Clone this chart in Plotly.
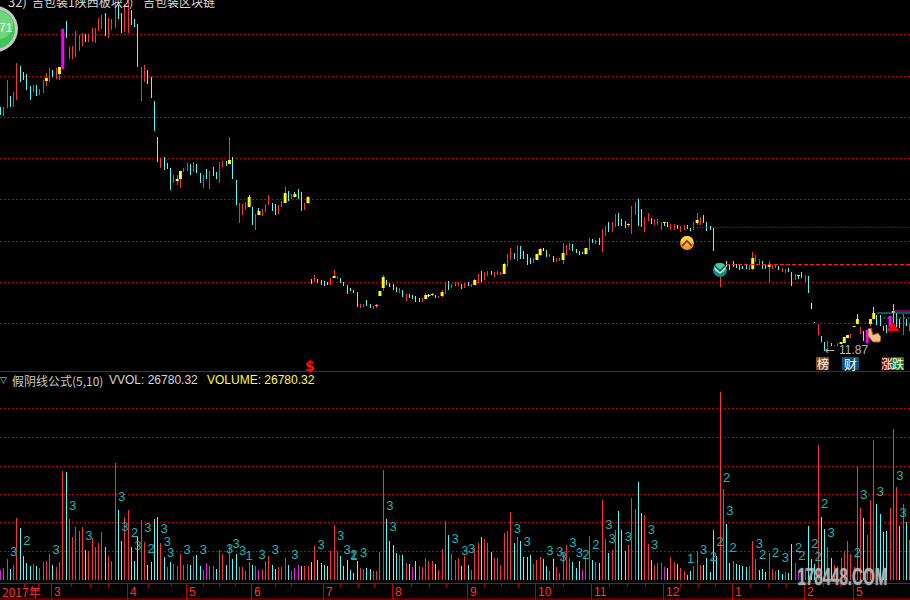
import plotly.graph_objects as go

# ---------- price pane ----------
highs = [36.2,36.2,38.9,37.3,37.7,40.6,40.3,39.7,39.5,38.3,
 38.4,38.4,38.0,38.9,39.6,40.1,39.9,40.1,40.2,44.0,
 44.8,42.2,42.3,43.8,43.4,43.6,43.5,43.5,44.1,44.1,
 45.1,45.4,45.6,45.1,45.0,46.9,46.4,45.6,46.5,46.9,
 45.9,45.0,44.5,40.2,40.4,39.9,39.2,36.8,33.2,31.1,
 31.2,30.6,30.1,29.4,29.4,29.8,30.1,30.6,30.5,30.7,
 30.5,29.6,29.4,30.0,29.8,30.2,29.7,30.7,30.8,30.8,
 33.2,31.2,28.9,26.6,26.5,26.7,27.4,26.2,25.5,26.1,
 26.0,26.5,27.4,26.6,26.5,26.4,26.8,28.2,27.8,27.5,
 27.7,28.0,27.7,26.6,27.3,19.0,19.4,19.0,18.9,18.8,
 18.7,19.1,19.9,19.3,19.1,18.7,18.4,18.1,17.9,17.7,
 16.5,16.5,16.9,16.5,16.3,16.5,17.8,19.4,18.9,18.6,
 18.5,18.2,18.1,17.9,17.5,17.5,17.4,17.3,17.1,17.1,
 17.6,17.5,17.6,17.4,17.3,17.9,18.7,18.8,18.5,18.7,
 18.7,18.5,18.6,18.7,18.5,19.0,19.5,19.8,19.7,19.8,
 19.8,19.7,19.8,19.7,20.6,21.5,22.1,21.6,22.4,22.3,
 21.8,21.5,21.1,21.1,21.5,22.1,22.1,21.9,21.5,21.3,
 21.1,21.1,22.6,22.4,22.6,22.5,22.0,21.8,21.7,22.1,
 23.1,23.0,22.9,23.1,24.0,24.3,24.7,24.7,25.5,25.6,
 25.0,24.8,24.6,26.3,26.7,27.0,26.0,25.2,25.6,25.1,
 25.0,25.0,24.7,24.7,24.7,24.5,24.5,24.4,24.3,24.4,
 24.4,24.1,24.7,25.6,25.2,25.4,24.7,24.3,24.1,20.6,
 20.6,20.5,20.8,20.5,20.8,20.5,20.4,20.3,20.4,20.4,
 21.7,21.4,21.0,20.8,20.4,20.8,20.4,20.4,20.3,20.1,
 20.0,20.1,19.7,19.5,19.4,19.7,19.4,19.3,16.6,14.7,
 14.5,13.3,12.7,12.8,12.6,12.4,12.6,12.7,13.2,13.4,
 13.5,14.3,15.5,14.2,13.8,13.9,15.0,16.2,15.4,15.4,
 14.3,14.4,15.3,16.5,15.6,15.0,15.5,15.0,14.5]
lows = [35.4,35.3,36.1,36.2,36.2,36.9,38.7,38.9,37.9,36.9,
 37.7,37.3,37.4,37.6,38.3,38.7,39.2,39.0,38.9,40.0,
 43.1,41.0,41.0,41.2,41.8,42.3,42.7,42.7,42.7,42.6,
 43.8,44.0,43.3,43.1,43.9,44.1,45.0,43.6,43.7,43.6,
 44.4,44.2,40.2,36.8,38.7,38.5,37.1,33.8,30.7,30.1,
 29.9,30.0,27.9,28.6,28.4,28.1,29.7,29.8,29.4,29.7,
 29.6,28.6,28.1,29.0,28.0,29.3,29.0,28.6,30.2,30.3,
 30.5,29.0,26.4,24.6,25.4,25.9,26.2,24.4,23.9,25.4,
 25.3,25.7,26.4,25.8,25.4,25.5,26.2,26.6,26.8,27.0,
 27.2,27.0,25.8,25.9,26.5,18.5,18.7,18.6,18.4,18.3,
 18.4,18.4,19.1,19.0,18.6,18.3,17.5,17.8,17.6,16.2,
 16.1,16.2,16.3,16.1,16.0,16.1,17.3,17.8,18.4,18.2,
 17.9,17.7,17.6,17.2,16.8,17.1,17.0,16.7,16.7,16.7,
 17.0,17.2,17.3,17.1,17.1,17.2,17.5,17.9,18.1,18.3,
 18.3,18.0,18.1,18.3,18.2,18.4,18.5,18.7,18.9,19.3,
 19.4,19.2,19.4,19.4,19.5,20.2,20.9,21.0,20.8,21.0,
 21.0,20.4,20.5,20.6,20.9,21.3,21.8,21.2,21.2,20.7,
 20.7,20.8,20.5,21.4,21.9,21.8,21.6,21.4,21.5,21.4,
 21.9,22.6,22.5,22.4,21.7,23.3,23.7,23.7,24.2,24.3,
 24.3,24.1,24.2,23.5,25.4,24.3,24.2,23.7,24.8,24.5,
 24.4,24.4,23.9,24.3,24.2,23.9,23.9,24.0,23.7,23.9,
 24.0,23.8,23.9,24.4,24.4,24.6,23.8,23.9,21.8,20.2,
 18.2,19.9,20.2,19.9,20.2,20.1,19.9,20.0,20.0,19.9,
 19.9,20.7,20.4,20.0,20.0,18.7,20.0,20.1,19.9,19.7,
 19.6,19.7,18.3,18.9,19.0,19.1,18.7,17.6,16.0,14.6,
 13.4,12.7,11.8,12.2,12.3,12.3,12.3,12.5,12.6,13.1,
 13.1,14.2,14.5,13.5,12.8,12.6,14.3,15.0,14.4,14.3,
 13.8,13.6,14.2,14.6,14.2,14.1,13.4,14.3,13.8]
bar_kinds = ("crrcrrcccc" "rcrrrrcrrm" "crrrrrcrrr" "rrcrrrccrr" "cccrrccccr"
             "cccrrrrrcr" "ccrcrccrrc" "rccrrrccrc" "rrrccrrrcr" "cccrrcrccc"
             "crrrcccccc" "rrccrrrrcc" "ccrcrccccr" "rwrcrrrcrr" "rcrcrrrcrr"
             "crrrrrrcrc" "cccrrrwcrc" "rrrrrccccr" "rcrcrrcrrc" "ccrrrccrrc"
             "rrrccrrcrr" "ccrrrccccr" "rccccccccr" "rrrccrrrcr" "rccrccrcww"
             "rccrcrrrrr" "rrcrcmrccc" "ccmcccrcr")

body_idx = [14,18,54,55,70,76,79,87,90,94,102,115,116,117,130,131,132,135,145,154,
            164,165,172,179,192,203,213,230,235,244,257,258,259,261,262,266,267,273]
body_top = [39.1,40.2,29.0,29.8,30.9,27.2,25.8,27.6,27.5,27.2,19.3,16.4,17.8,19.2,17.4,17.4,17.5,17.7,18.9,20.5,
            21.5,22.0,21.6,22.1,24.5,24.7,24.9,21.1,20.4,19.4,12.7,13.2,13.4,14.3,15.0,15.0,15.6,15.8]
body_bot = [38.8,39.5,28.8,29.0,30.5,26.2,25.4,26.6,27.2,26.6,19.1,16.3,17.3,18.1,17.0,17.3,17.4,17.3,18.4,19.5,
            20.9,21.4,20.9,21.5,24.4,24.6,24.6,20.0,20.2,19.3,12.5,12.6,13.1,14.2,14.5,14.5,15.0,15.6]

price_grid = [43.47,39.27,35.17,31.07,26.97,22.77,18.67,14.57]
# right-hand level lines: value, first bar
level_a = (24.17, 211)
level_b = (20.45, 220)
level_teal = (15.6, 268)
level_teal_dots = (15.1, 270)
level_magenta = (15.8, 273)

# ---------- volume pane (axis units; 1 unit = 669.5 lots) ----------
vol_units = [10,12,21,11,15,62,52,24,17,14,
 16,14,12,18,19,26,15,13,18,109,
 108,61,43,53,49,53,30,29,42,33,
 37,48,33,24,19,117,70,39,63,70,
 33,19,44,60,38,15,18,61,63,37,
 23,13,18,16,14,26,15,16,15,24,
 25,14,10,17,14,14,11,30,26,15,
 35,21,26,13,13,9,18,15,14,10,
 11,19,24,15,11,13,13,22,15,9,
 12,15,14,14,14,18,34,20,17,15,
 14,29,55,29,24,14,20,10,7,19,
 12,11,12,11,9,9,28,110,61,39,
 35,27,25,25,17,16,13,19,14,13,
 22,19,19,16,10,31,59,45,26,20,
 22,14,24,15,10,32,37,43,41,37,
 28,22,22,15,47,49,68,37,43,39,
 23,23,25,16,20,23,21,14,9,21,
 13,7,26,35,22,18,12,19,10,24,
 44,20,18,17,80,41,27,30,50,69,
 50,29,35,82,71,98,67,65,36,20,
 15,17,17,13,12,23,18,16,12,9,
 5,9,14,29,15,15,22,8,50,24,
 188,91,56,17,19,16,15,14,13,14,
 39,21,10,11,8,27,11,9,10,6,
 8,7,36,17,9,8,12,54,21,16,
 135,63,51,33,22,15,14,22,29,39,
 26,13,113,72,62,45,80,140,76,66,
 48,49,72,151,93,54,76,58,40]
vol_kinds = ("mrrcrrcccc" "rcrrrrcrrr" "crrrrrcrrr" "rrcrrrccrr" "cccrrccccr"
             "cmcrrrrrcr" "ccrmrmcrrc" "rccrrrmcrm" "rrrccrrrcr" "mmcrrcrccc"
             "crrrcccccc" "rrccrrrrcc" "ccrcrcmcmr" "rrrcrrrcrr" "rcrcrrrcrr"
             "crrrrrrcrc" "cccrrrccrc" "rrrrrcccmr" "rcrcrrcrrc" "ccrrrccrrc"
             "rrrmcrrcrr" "ccrrrccccc" "rrccmccccr" "rrcccrrrcc" "rccrmcrccc"
             "rccrcrrrrr" "rrmrcrrmcc" "ccrmrcrcr")

digit_bar = [4,8,17,22,27,37,38,41,42,45,46,50,51,52,57,62,70,72,74,76,80,84,90,
             98,104,106,108,108,111,119,120,139,142,144,158,161,168,171,172,175,177,179,182,186,187,
             192,199,200,211,215,218,220,222,223,224,232,233,237,240,244,245,249,250,252,254,262,264,269,275,276]
digit_val = [27,38,29,73,43,82,52,46,33,51,30,50,37,26,29,29,30,35,28,23,24,29,24,
             34,43,29,24,23,26,73,52,40,28,30,50,37,28,27,22,36,26,24,34,54,40,
             42,49,34,20,29,22,37,101,68,31,35,24,26,21,31,23,35,22,75,46,26,84,87,103,66]
digit_txt = ["3","2","3","3","3","3","3","2","3","3","2","3","3","3","3","3","3","3","3","1","3","3","3",
             "3","3","3","2","1","3","3","3","3","3","3","3","3","3","3","3","3","3","2","2","3","3",
             "3","3","3","1","3","2","2","2","3","2","3","2","2","3","2","2","2","2","2","3","2","3","3","3","3"]

# ---------- bottom time axis ----------
month_ticks = [15.5,38.75,56.7,76.7,98.7,119.8,142.7,163.5,180.6,202.7,223.8,245.8,260.8]
minor_ticks = [7.2,11.6,21.8,27.4,33,45.2,52.3,62,67,71.7,84,89,104,109.3,114.4,125.6,131.3,136.3,
               148.1,153.2,158.3,169,172,186.2,191.7,197.1,207.8,213.4,218.5,229.2,234.8,240.4,251.6,256.7]
month_labels = ["2017年","3","4","5","6","7","8","9","10","11","12","1","2","5"]
month_label_px = [1,53,129,188,253,325,394,469,537,593,665,734,806,855]

RED = "#ff3232"; CYAN = "#54fcfc"; YEL = "#ffff00"; MAG = "#ff00ff"; WHT = "#ffffff"
GRID = "#c00000"; AXIS = "#c00000"; TEAL = "#1fb4b4"
GRID_DASH = "1.5px,2.5px"
W, H = 910, 600
STEP = 3.27
THIN = 0.002
COL = {"r": RED, "c": CYAN, "w": WHT}
n = len(highs)

def X(p): return p / W
def Y(p): return 1 - p / H

fig = go.Figure()

# price wicks
for k, c in COL.items():
    ids = [i for i in range(n) if bar_kinds[i] == k]
    fig.add_trace(go.Bar(x=ids, y=[highs[i] - lows[i] for i in ids], base=[lows[i] for i in ids],
                         width=THIN, marker=dict(color=c, line_width=0), xaxis="x", yaxis="y"))
ids = [i for i in range(n) if bar_kinds[i] == "m"]
fig.add_trace(go.Bar(x=ids, y=[highs[i] - lows[i] for i in ids], base=[lows[i] for i in ids],
                     width=0.9, marker=dict(color=MAG, line_width=0), xaxis="x", yaxis="y"))
fig.add_trace(go.Bar(x=body_idx, y=[a - b for a, b in zip(body_top, body_bot)], base=body_bot,
                     width=0.9, marker=dict(color=YEL, line_width=0), xaxis="x", yaxis="y"))

# level lines on the right
for (val, start), col, dash in [(level_a, "#ff2020", "1px,2px"), (level_b, "#ff2020", "4px,2px"),
                                (level_teal, "#20a8a8", "solid"), (level_teal_dots, "#20a8a8", "2px,2px"),
                                (level_magenta, "#e000e0", "solid")]:
    fig.add_trace(go.Scatter(x=[start, n], y=[val, val], mode="lines",
                             line=dict(color=col, dash=dash, width=1), xaxis="x", yaxis="y"))

# volume bars
vols = [v * 669.5 for v in vol_units]
VC = {"r": RED, "c": CYAN, "m": "#e81ce8"}
for k, c in VC.items():
    ids = [i for i in range(n) if vol_kinds[i] == k]
    fig.add_trace(go.Bar(x=ids, y=[vols[i] for i in ids], width=THIN,
                         marker=dict(color=c, line_width=0), xaxis="x2", yaxis="y2"))

# wave digits
fig.add_trace(go.Scatter(x=digit_bar, y=[v * 669.5 for v in digit_val], text=digit_txt, mode="text",
                         textposition="middle center",
                         textfont=dict(family="Liberation Sans", size=13, color=TEAL),
                         xaxis="x2", yaxis="y2"))

r0 = -0.625 / STEP
r1 = r0 + W / STEP
grid_px_vol = [172, 143, 114, 86, 58, 29]

shapes = []
def sh(**k):
    k.setdefault("xref", "paper"); k.setdefault("yref", "paper")
    shapes.append(k)

def circle(cx, cy, rx, ry, fill, line=None, lw=0):
    sh(type="circle", x0=X(cx - rx), x1=X(cx + rx), y0=Y(cy + ry), y1=Y(cy - ry),
       fillcolor=fill, line=dict(color=line or fill, width=lw))

def path(pts, fill=None, line=None, lw=1, close=True):
    d = "M" + " L".join(f"{X(a):.5f},{Y(b):.5f}" for a, b in pts) + (" Z" if close else "")
    sh(type="path", path=d, fillcolor=fill or "rgba(0,0,0,0)",
       line=dict(color=line or "rgba(0,0,0,0)", width=lw if line else 0))

def rect(x0, y0, x1, y1, fill):
    sh(type="rect", x0=X(x0), x1=X(x1), y0=Y(y1), y1=Y(y0), fillcolor=fill, line_width=0)

# separator and bottom border
sh(type="line", x0=0, x1=1, y0=Y(371.5), y1=Y(371.5), line=dict(color=AXIS, width=1))
sh(type="line", x0=0, x1=1, y0=Y(599), y1=Y(599), line=dict(color=AXIS, width=1))

# green rank badge
circle(-5, 29, 23, 23, "#c8c8c8")
circle(-5, 29, 20, 20, "#44c458")
circle(-5, 25, 18, 15, "#6ed67c")

# orange and teal signal badges
circle(687, 243, 7, 7, "#f49a1c")
circle(687, 241, 6, 5, "#ffd24a")
path([(682, 246), (687, 241), (692, 246)], line="#b03a10", lw=2, close=False)
circle(720, 270, 7, 7, "#108c80")
circle(720, 268, 6, 5, "#3cd0a0")
path([(715, 268), (720, 273), (725, 268)], line="#d8f0e8", lw=1.5, close=False)
path([(715, 266), (720, 271), (725, 266)], line="#105850", lw=1.5, close=False)

# red triangle and hand
path([(892.7, 321.7), (899.5, 331), (886.5, 331)], fill="#ff0000")
path([(868, 329), (871, 328), (873, 335), (878, 333), (881, 337), (880, 342), (873, 342), (868, 336)],
     fill="#f4c088", line="#a85a18", lw=1)

# event boxes
rect(816, 357, 829, 370, "#8a4a10")
rect(842, 357, 859, 370, "#0a5478")
rect(882, 357, 891, 370, "#900010")
rect(891, 357, 904, 370, "#008010")

ann = []
def t(px, py, s, col, size=12, fam="Liberation Sans", anchor="left", shadow=None):
    f = dict(family=fam, size=size, color=col)
    if shadow:
        f["shadow"] = shadow
    ann.append(dict(xref="paper", yref="paper", x=X(px), y=Y(py), text=s, showarrow=False,
                    xanchor=anchor, yanchor="middle", align=anchor, borderpad=0, font=f))

CJK = "Noto Sans CJK SC"
t(7, 1.5, "32)", "#d8d8d8", 13, fam=CJK)
t(31, 1.5, "吉包装1陕西板块2)", "#d8d8d8", 12, fam=CJK)
t(142, 1.5, "吉包装区块链", "#d8d8d8", 12, fam=CJK)
t(5.5, 28, "71", "#ffffff", 12, anchor="center")
t(3.5, 380, "▽", "#c8c8c8", 9, fam="DejaVu Sans", anchor="center")
t(11, 380, "假阴线公式(5,10)", "#c8c8c8", 12, fam=CJK)
t(108, 380, "VVOL: 26780.32", "#d8d8d8", 12)
t(206, 380, "VOLUME: 26780.32", "#ffff30", 12)
t(309.8, 366, "<b>$</b>", "#ff1010", 14, anchor="center", fam="DejaVu Sans")
t(824, 350, "←", "#b8b8b8", 12, fam="DejaVu Sans")
t(838, 350.5, "11.87", "#b8b8b8", 12)
t(822.5, 363.5, "榜", "#ffffff", 12, fam=CJK, anchor="center")
t(850.5, 363.5, "财", "#ffffff", 13, fam=CJK, anchor="center")
t(887, 363.5, "涨", "#ffffff", 12, fam=CJK, anchor="center")
t(897.5, 363.5, "跌", "#ffffff", 12, fam=CJK, anchor="center")
for s, p in zip(month_labels, month_label_px):
    t(p, 591.5, s, "#ff3030", 12, fam=CJK if "年" in s else "Liberation Sans")
t(842.5, 576, "<b>178448.COM</b>", "rgba(185,185,185,0.85)", 24, anchor="center",
  shadow="0px 0px 2px #a0a0a0")

ax_common = dict(showticklabels=False, zeroline=False, showgrid=False)
fig.update_layout(
    width=W, height=H, margin=dict(l=0, r=0, t=0, b=0), autosize=False,
    paper_bgcolor="#000000", plot_bgcolor="#000000", showlegend=False,
    barmode="overlay", shapes=shapes, annotations=ann,
    xaxis=dict(domain=[0, 1], range=[r0, r1], anchor="y", ticks="", showline=False, **ax_common),
    xaxis2=dict(domain=[0, 1], range=[r0, r1], anchor="y2", showline=True, linecolor=AXIS, linewidth=1,
                ticks="outside", tickmode="array", tickvals=month_ticks, ticklen=16, tickcolor=AXIS, tickwidth=1,
                minor=dict(ticks="outside", tickmode="array", tickvals=minor_ticks, ticklen=3,
                           tickcolor=AXIS, tickwidth=1, showgrid=False), **ax_common),
    yaxis=dict(domain=[1 - 372 / H, 1], range=[(469 - 372) / 10, 46.9], anchor="x", showticklabels=False,
               zeroline=False, ticks="", tickmode="array", tickvals=price_grid, showgrid=True,
               gridcolor=GRID, griddash=GRID_DASH, gridwidth=1),
    yaxis2=dict(domain=[1 - 583 / H, 1 - 372 / H], range=[-3 * 669.5, 208 * 669.5], anchor="x2",
                showticklabels=False, zeroline=False, ticks="", tickmode="array",
                tickvals=[g * 669.5 for g in grid_px_vol], showgrid=True,
                gridcolor=GRID, griddash=GRID_DASH, gridwidth=1),
)
squeeze = """
document.body.style.margin='0';document.body.style.background='#000';
function squeezeMark(){
  document.querySelectorAll('.annotation text').forEach(function(el){
    if(el.textContent.indexOf('178448')>=0){
      el.setAttribute('textLength','90');
      el.setAttribute('lengthAdjust','spacingAndGlyphs');
      el.querySelectorAll('tspan').forEach(function(s){
        s.setAttribute('textLength','90');
        s.setAttribute('lengthAdjust','spacingAndGlyphs');
      });
    }
  });
}
squeezeMark();setTimeout(squeezeMark,0);setTimeout(squeezeMark,100);setTimeout(squeezeMark,400);
"""
fig.write_html("out.html", config=dict(displayModeBar=False), post_script=squeeze)
